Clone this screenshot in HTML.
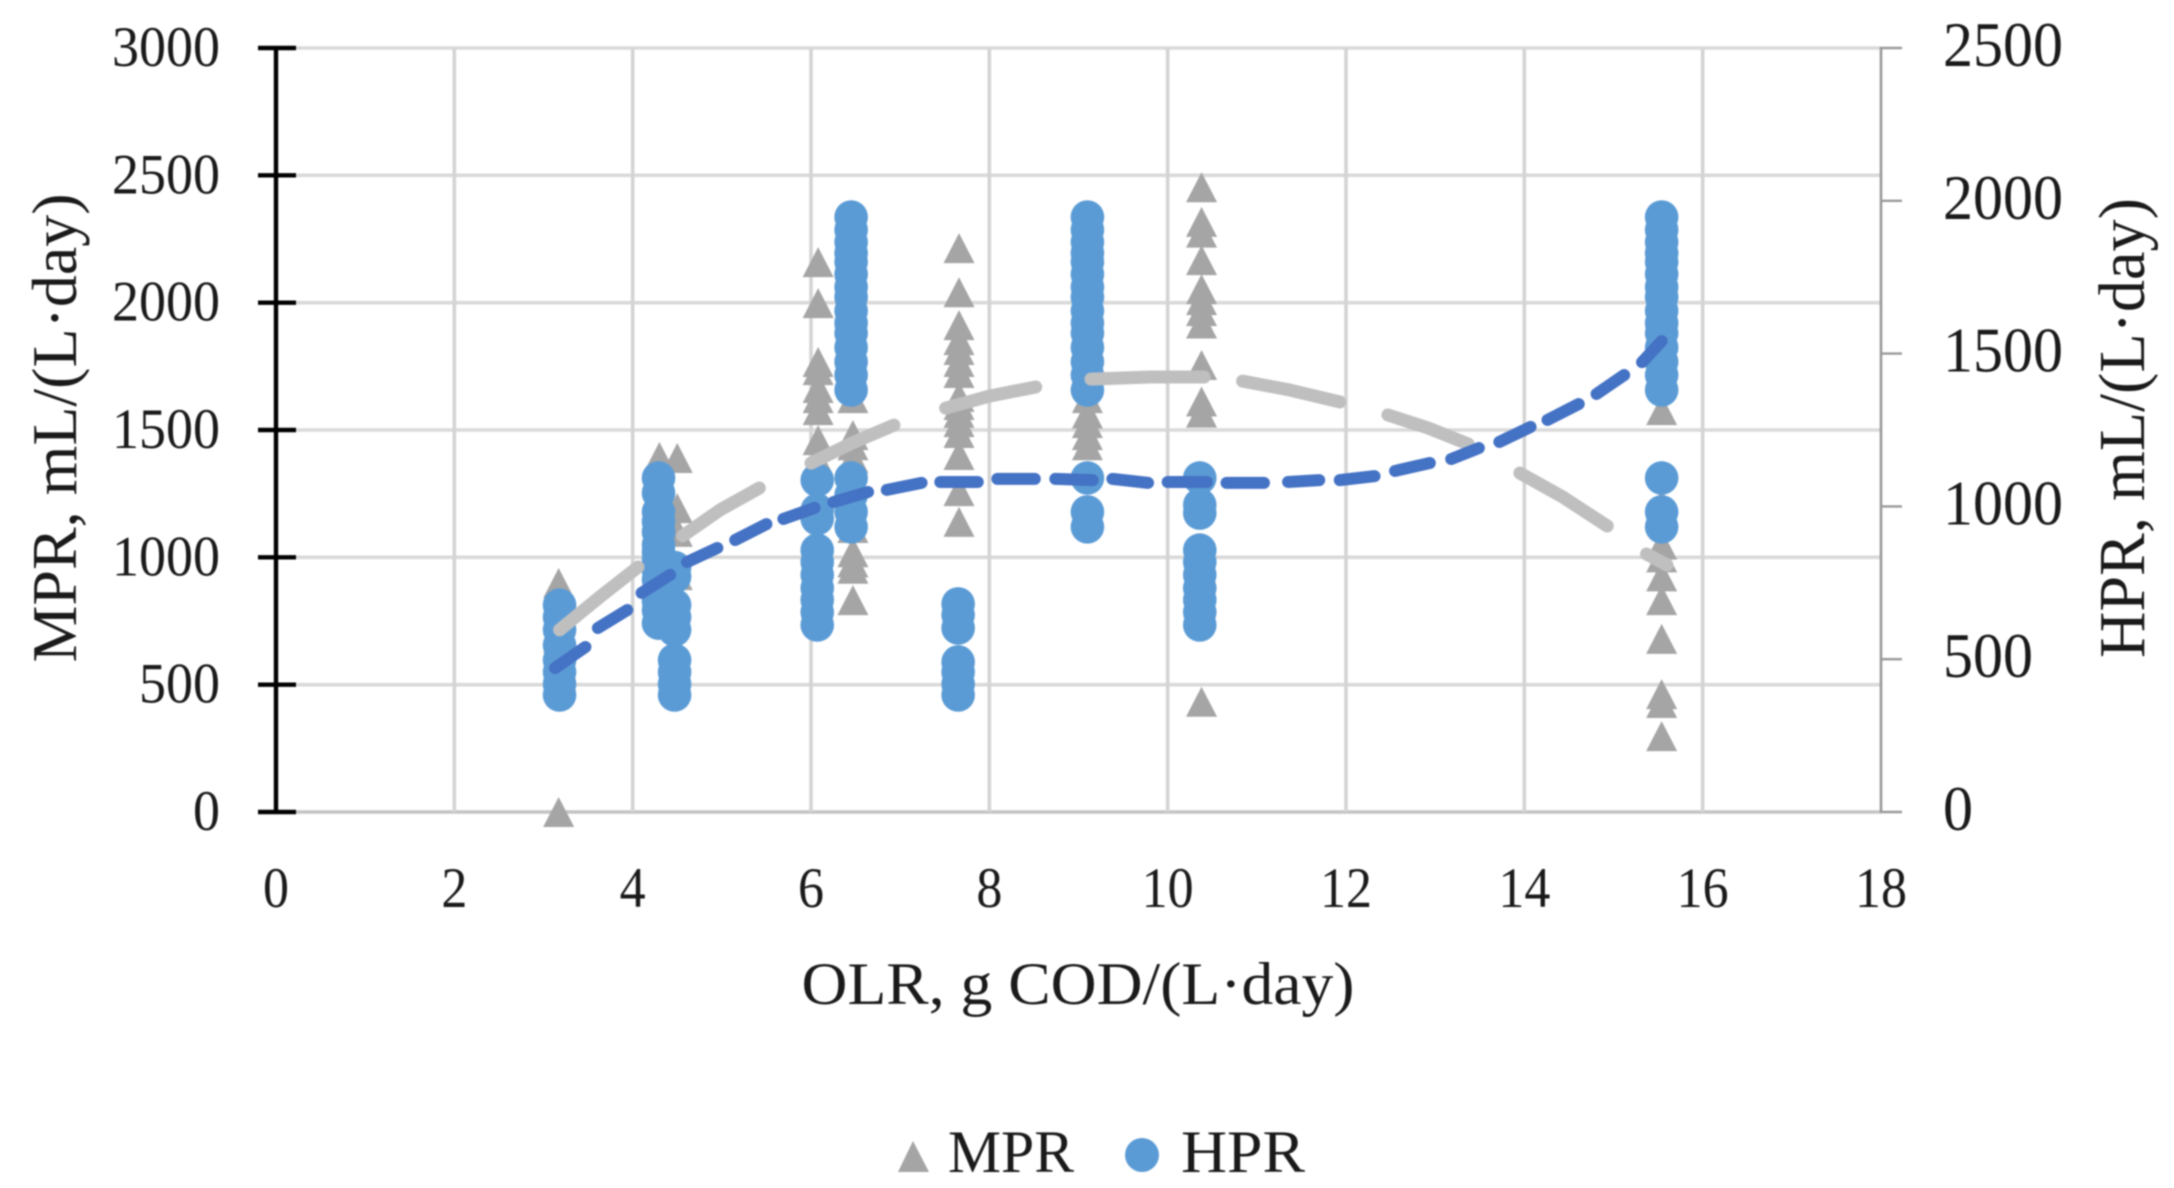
<!DOCTYPE html>
<html lang="en">
<head>
<meta charset="utf-8">
<title>MPR and HPR versus OLR</title>
<style>
  html, body { margin: 0; padding: 0; background: #ffffff; }
  body { width: 2174px; height: 1188px; overflow: hidden; }
  svg { display: block; filter: blur(0.7px); }
  text { font-family: "Liberation Serif", serif; fill: #1a1a1a; }
</style>
</head>
<body>
<svg id="chart" xmlns="http://www.w3.org/2000/svg" width="2174" height="1188" viewBox="0 0 2174 1188">
  <rect width="2174" height="1188" fill="#ffffff"/>
  <g id="grid"></g>
  <g id="axes"></g>
  <g id="mpr"></g>
  <g id="hpr"></g>
  <g id="trends"></g>
  <text transform="translate(76,428) rotate(-90)" text-anchor="middle" font-size="64" textLength="469" lengthAdjust="spacingAndGlyphs">MPR, mL/(L·day)</text>
  <text transform="translate(2144,428) rotate(-90)" text-anchor="middle" font-size="66" textLength="460" lengthAdjust="spacingAndGlyphs">HPR, mL/(L·day)</text>
  <text x="1078" y="1004" text-anchor="middle" font-size="60" textLength="553" lengthAdjust="spacingAndGlyphs">OLR, g COD/(L·day)</text>
  <g>
    <polygon points="913,1141 929,1172 898,1172" fill="#a5a5a5"/>
    <text x="948" y="1172" font-size="60" textLength="126" lengthAdjust="spacingAndGlyphs">MPR</text>
    <ellipse cx="1142" cy="1155" rx="17" ry="17" fill="#5b9bd5"/>
    <text x="1181" y="1172" font-size="60" textLength="124" lengthAdjust="spacingAndGlyphs">HPR</text>
  </g>
</svg>
<script>
// Axis tick values
const xTicks = [0, 2, 4, 6, 8, 10, 12, 14, 16, 18];
const leftTicks = [0, 500, 1000, 1500, 2000, 2500, 3000];
const rightTicks = [0, 500, 1000, 1500, 2000, 2500];

// MPR series (triangles, left axis): one x per column, one list of values per column
const mprX = [3.17, 4.3, 4.5, 6.08, 6.47, 7.66, 9.1, 10.38, 15.54];
const mprValues = [
  [899, 683, 0],
  [1394, 1180, 1100, 1000],
  [1390, 1193, 1100, 930],
  [2159, 1998, 1767, 1735, 1665, 1625, 1578, 1460, 1380],
  [1625, 1480, 1440, 1390, 1115, 1020, 980, 955, 832],
  [2214, 2041, 1912, 1853, 1814, 1767, 1724, 1630, 1598, 1567, 1531, 1488, 1402, 1260, 1139],
  [1625, 1565, 1527, 1480, 1440],
  [2453, 2317, 2275, 2167, 2053, 2010, 1967, 1918, 1755, 1612, 1568, 433],
  [1578, 1210, 1050, 1000, 925, 832, 680, 463, 428, 298]
];

// HPR series (circles, right axis)
const hprX = [3.18, 4.29, 4.47, 6.07, 6.45, 7.65, 9.1, 10.36, 15.54];
const hprValues = [
  [677, 638, 596, 546, 497, 458, 419, 383],
  [1093, 1044, 982, 950, 916, 874, 850, 825, 790, 760, 726, 690, 660, 618],
  [800, 770, 677, 638, 596, 497, 458, 419, 383],
  [1086, 988, 960, 857, 818, 776, 733, 694, 654, 612],
  [1947, 1905, 1865, 1829, 1800, 1760, 1718, 1685, 1640, 1600, 1567, 1520, 1473, 1430, 1381, 1093, 1037, 982, 933],
  [681, 645, 602, 491, 458, 419, 383],
  [1947, 1905, 1865, 1829, 1800, 1760, 1718, 1685, 1640, 1600, 1567, 1520, 1473, 1430, 1381, 1093, 982, 933],
  [1093, 1005, 978, 857, 818, 776, 733, 694, 654, 612],
  [1947, 1905, 1865, 1829, 1800, 1760, 1718, 1685, 1640, 1600, 1567, 1520, 1473, 1430, 1381, 1093, 982, 933]
];

// MPR trend line dashes, as [x, value] pairs (left axis)
const mprTrend = [
  [[3.18, 715], [3.63, 844], [4.06, 962]],
  [[4.56, 1084], [4.98, 1186], [5.42, 1272]],
  [[6.0, 1370], [6.46, 1449], [6.93, 1519]],
  [[7.51, 1586], [8.0, 1633], [8.52, 1669]],
  [[9.14, 1700], [9.8, 1708], [10.41, 1708]],
  [[10.84, 1692], [11.37, 1657], [11.93, 1610]],
  [[12.47, 1559], [12.92, 1508], [13.37, 1445]],
  [[13.95, 1331], [14.43, 1237], [14.93, 1123]],
  [[15.37, 1013], [15.6, 970]]
];

// HPR trend line dashes, as [x, value] pairs (right axis)
const hprTrend = [
  [[3.13, 471], [3.47, 540]],
  [[3.61, 602], [3.94, 661]],
  [[4.10, 717], [4.42, 776]],
  [[4.61, 818], [4.95, 864]],
  [[5.15, 890], [5.50, 942]],
  [[5.69, 959], [6.04, 995]],
  [[6.25, 1014], [6.64, 1047]],
  [[6.85, 1054], [7.24, 1077]],
  [[7.45, 1080], [7.87, 1080]],
  [[8.09, 1090], [8.51, 1090]],
  [[8.74, 1090], [9.16, 1086]],
  [[9.38, 1090], [9.78, 1077]],
  [[10.0, 1080], [10.44, 1080]],
  [[10.66, 1077], [11.08, 1077]],
  [[11.35, 1080], [11.70, 1086]],
  [[11.93, 1086], [12.32, 1099]],
  [[12.55, 1116], [12.94, 1142]],
  [[13.18, 1155], [13.49, 1191]],
  [[13.72, 1211], [14.07, 1260]],
  [[14.26, 1283], [14.61, 1335]],
  [[14.81, 1368], [15.12, 1430]],
  [[15.32, 1472], [15.54, 1541]]
];

const NS = 'http://www.w3.org/2000/svg';
const plot = { left: 276, right: 1881, top: 48, bottom: 812 };
const xMax = 18, leftMax = 3000, rightMax = 2500;

function xScale(v) { return plot.left + (v / xMax) * (plot.right - plot.left); }
function yLeft(v) { return plot.bottom - (v / leftMax) * (plot.bottom - plot.top); }
function yRight(v) { return plot.bottom - (v / rightMax) * (plot.bottom - plot.top); }

function make(tag, attrs, parent) {
  const el = document.createElementNS(NS, tag);
  for (const k in attrs) el.setAttribute(k, attrs[k]);
  parent.appendChild(el);
  return el;
}

function fitLabel(label, text, digitWidth) {
  label.textContent = text;
  label.setAttribute('textLength', text.length * digitWidth);
  label.setAttribute('lengthAdjust', 'spacingAndGlyphs');
}

const grid = document.getElementById('grid');
const axes = document.getElementById('axes');
const mprG = document.getElementById('mpr');
const hprG = document.getElementById('hpr');
const trends = document.getElementById('trends');

// Horizontal gridlines and left axis ticks
leftTicks.forEach(function (t) {
  const y = yLeft(t);
  const line = make('line', { x1: plot.left, x2: plot.right, y1: y, y2: y, stroke: t === 0 ? '#c4c4c4' : '#d9d9d9', 'stroke-width': 3.6 }, grid);
  
  
  const tick = make('line', { x1: 258, x2: 296, y1: y, y2: y, stroke: '#000000', 'stroke-width': 4.4 }, axes);
  
  
  const label = make('text', { x: 220, y: y + 18, 'text-anchor': 'end', 'font-size': 57 }, axes);
  fitLabel(label, String(t), 27);
  
  
});

// Vertical gridlines and x axis labels
xTicks.forEach(function (t) {
  const x = xScale(t);
  if (t > 0 && t < xMax) {
    const line = make('line', { x1: x, x2: x, y1: plot.top, y2: plot.bottom, stroke: '#d4d4d4', 'stroke-width': 3.6 }, grid);
    
    
  }
  const label = make('text', { x: x, y: 907, 'text-anchor': 'middle', 'font-size': 57 }, axes);
  fitLabel(label, String(t), 26);
  
  
});

// Right axis
rightTicks.forEach(function (t) {
  const y = yRight(t);
  const tick = make('line', { x1: plot.right, x2: 1902, y1: y, y2: y, stroke: '#999999', 'stroke-width': 2.4 }, axes);
  
  
  const label = make('text', { x: 1943, y: y + 18, 'text-anchor': 'start', 'font-size': 64 }, axes);
  fitLabel(label, String(t), 30);
  
  
});

const leftAxis = make('line', { x1: plot.left, x2: plot.left, y1: plot.top - 2, y2: plot.bottom + 2, stroke: '#000000', 'stroke-width': 4.4 }, axes);



const rightAxis = make('line', { x1: plot.right, x2: plot.right, y1: plot.top - 1, y2: plot.bottom + 1, stroke: '#999999', 'stroke-width': 2.6 }, axes);



// MPR triangles
mprX.forEach(function (xv, i) {
  mprValues[i].forEach(function (v) {
    const cx = xScale(xv), cy = yLeft(v);
    const pts = [cx + ',' + (cy - 15), (cx + 15.5) + ',' + (cy + 15), (cx - 15.5) + ',' + (cy + 15)].join(' ');
    const tri = make('polygon', { points: pts, fill: '#a5a5a5' }, mprG);
    
    
  });
});

// HPR circles
hprX.forEach(function (xv, i) {
  hprValues[i].forEach(function (v) {
    const c = make('circle', { cx: xScale(xv), cy: yRight(v), r: 16.8, fill: '#5b9bd5' }, hprG);
    
    
  });
});

// Trend line dashes
mprTrend.forEach(function (seg) {
  const d = seg.map(function (p, j) { return (j ? 'L' : 'M') + xScale(p[0]) + ' ' + yLeft(p[1]); }).join(' ');
  const path = make('path', { d: d, fill: 'none', stroke: '#bfbfbf', 'stroke-width': 13, 'stroke-linecap': 'round', 'stroke-linejoin': 'round' }, trends);
  
  
});
hprTrend.forEach(function (seg) {
  const d = seg.map(function (p, j) { return (j ? 'L' : 'M') + xScale(p[0]) + ' ' + yRight(p[1]); }).join(' ');
  const path = make('path', { d: d, fill: 'none', stroke: '#4472c4', 'stroke-width': 12, 'stroke-linecap': 'round', 'stroke-linejoin': 'round' }, trends);
  
  
});
</script>
</body>
</html>
